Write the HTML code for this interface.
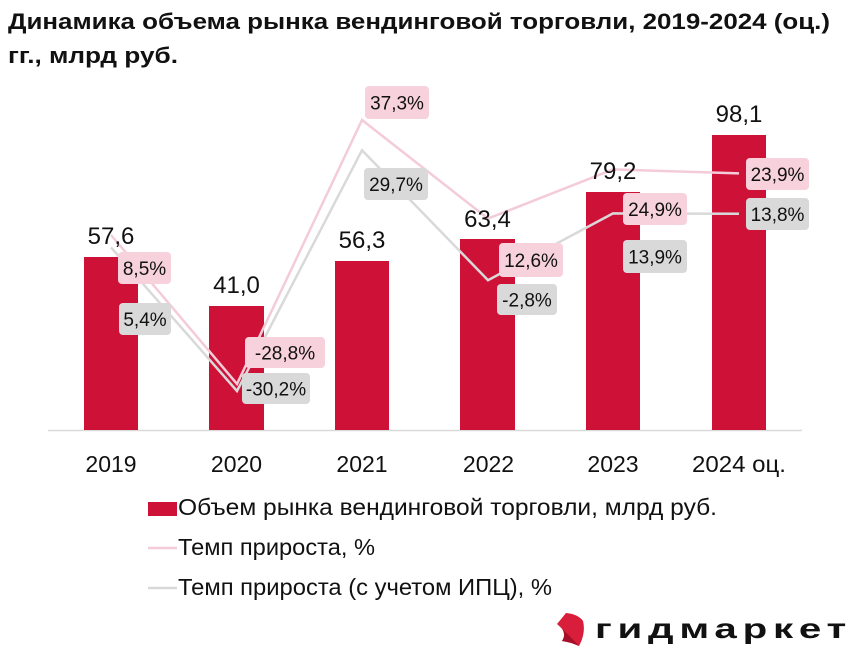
<!DOCTYPE html>
<html><head><meta charset="utf-8"><style>
html,body{margin:0;padding:0;background:#fff;}
svg{display:block;}
text{font-family:"Liberation Sans","DejaVu Sans",sans-serif;}
</style></head><body>
<svg width="859" height="656" viewBox="0 0 859 656" xmlns="http://www.w3.org/2000/svg">
<rect width="859" height="656" fill="#fff"/>
<!-- Title -->
<text x="8" y="29" font-size="22" font-weight="bold" fill="#111" textLength="822" lengthAdjust="spacingAndGlyphs">Динамика объема рынка вендинговой торговли, 2019-2024 (оц.)</text>
<text x="8" y="63" font-size="22" font-weight="bold" fill="#111" textLength="170" lengthAdjust="spacingAndGlyphs">гг., млрд руб.</text>

<!-- axis -->
<line x1="48" y1="430.5" x2="802" y2="430.5" stroke="#d9d9d9" stroke-width="1.5"/>

<!-- bars -->
<g fill="#ce1237">
<rect x="84" y="257" width="54" height="173"/>
<rect x="209" y="306" width="55" height="124"/>
<rect x="335" y="261" width="54" height="169"/>
<rect x="460" y="239" width="55" height="191"/>
<rect x="586" y="192" width="54" height="238"/>
<rect x="712" y="135" width="54" height="295"/>
</g>

<!-- lines -->
<polyline points="111,235 237,384 362,120 488,218.6 613,169.4 739,173.4" fill="none" stroke="#f4ccd8" stroke-width="2.5" stroke-linejoin="miter"/>
<polyline points="111,247.4 237,391 362,150.2 488,280.2 613,213.4 739,213.8" fill="none" stroke="#d9d9d9" stroke-width="2.5" stroke-linejoin="miter"/>

<!-- value labels -->
<g font-size="24" fill="#111" text-anchor="middle">
<text x="111" y="244">57,6</text>
<text x="236.5" y="293">41,0</text>
<text x="362" y="248">56,3</text>
<text x="487.5" y="227">63,4</text>
<text x="613" y="179">79,2</text>
<text x="739" y="122">98,1</text>
</g>

<!-- percent labels -->
<g font-size="19" fill="#111" text-anchor="middle">
<rect x="118" y="252" width="53" height="32" rx="4" fill="#f7d2dc"/><text x="144.5" y="275">8,5%</text>
<rect x="119" y="303" width="52" height="32" rx="4" fill="#d9d9d9"/><text x="145" y="326">5,4%</text>
<rect x="245" y="337" width="80" height="31" rx="4" fill="#f7d2dc"/><text x="285" y="359.5">-28,8%</text>
<rect x="242" y="373" width="68" height="31" rx="4" fill="#d9d9d9"/><text x="276" y="395.5">-30,2%</text>
<rect x="365" y="86" width="64" height="33" rx="4" fill="#f7d2dc"/><text x="397" y="109.5">37,3%</text>
<rect x="364" y="168" width="64" height="32" rx="4" fill="#d9d9d9"/><text x="396" y="191">29,7%</text>
<rect x="499" y="243" width="64" height="34" rx="4" fill="#f7d2dc"/><text x="531" y="267">12,6%</text>
<rect x="497" y="284" width="60" height="31" rx="4" fill="#d9d9d9"/><text x="527" y="306.5">-2,8%</text>
<rect x="623" y="193" width="64" height="32" rx="4" fill="#f7d2dc"/><text x="655" y="216">24,9%</text>
<rect x="623" y="240" width="64" height="33" rx="4" fill="#d9d9d9"/><text x="655" y="263.5">13,9%</text>
<rect x="746" y="158" width="63" height="32" rx="4" fill="#f7d2dc"/><text x="777.5" y="181">23,9%</text>
<rect x="746" y="198" width="63" height="32" rx="4" fill="#d9d9d9"/><text x="777.5" y="221">13,8%</text>
</g>

<!-- x labels -->
<g font-size="23" fill="#111" text-anchor="middle">
<text x="111" y="472">2019</text>
<text x="236.5" y="472">2020</text>
<text x="362" y="472">2021</text>
<text x="488.5" y="472">2022</text>
<text x="613" y="472">2023</text>
<text x="739" y="472" textLength="94" lengthAdjust="spacingAndGlyphs">2024 оц.</text>
</g>

<!-- legend -->
<rect x="148" y="502" width="29" height="14" fill="#ce1237"/>
<text x="178" y="515" font-size="23" fill="#111" textLength="539" lengthAdjust="spacingAndGlyphs">Объем рынка вендинговой торговли, млрд руб.</text>
<line x1="148" y1="548" x2="177" y2="548" stroke="#f4ccd8" stroke-width="2.5"/>
<text x="178" y="555" font-size="23" fill="#111" textLength="197" lengthAdjust="spacingAndGlyphs">Темп прироста, %</text>
<line x1="148" y1="588" x2="177" y2="588" stroke="#d9d9d9" stroke-width="2.5"/>
<text x="178" y="595" font-size="23" fill="#111" textLength="374" lengthAdjust="spacingAndGlyphs">Темп прироста (с учетом ИПЦ), %</text>

<!-- logo -->
<path d="M566,613 Q578,614 583,621 Q586,633 579,646 Q570,642 562,641 Q568,632 557,624 Q562,618 566,613 Z" fill="#d81e3a"/>
<path d="M557,624 Q568,632 562,641 Q570,642 579,646 Q570,636 557,624 Z" fill="#a50f2a"/>
<text x="595" y="638" font-size="28" font-weight="bold" fill="#111" letter-spacing="4" textLength="257" lengthAdjust="spacingAndGlyphs">гидмаркет</text>
</svg>
</body></html>
